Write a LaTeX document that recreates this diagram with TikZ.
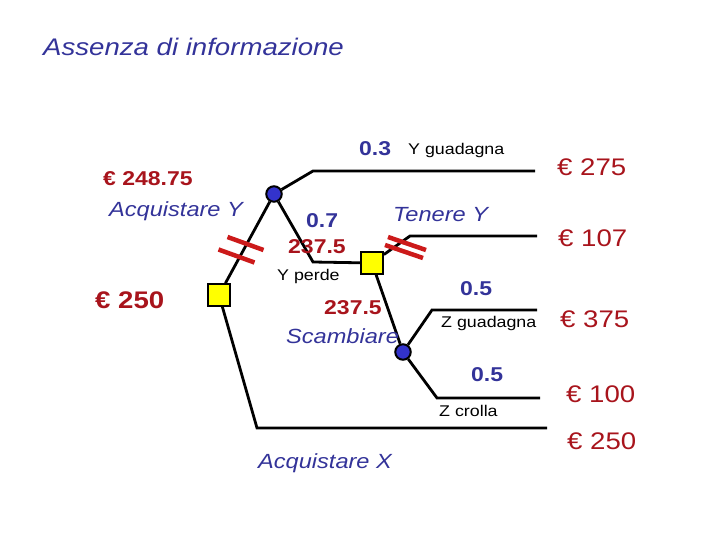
\documentclass[tikz,border=0pt]{standalone}
\usepackage{fontspec}
\setmainfont[FakeStretch=1.15]{Liberation Sans}
\usetikzlibrary{positioning}
\definecolor{treeBlue}{HTML}{333399}
\definecolor{treeRed}{HTML}{A8141C}
\definecolor{nodeBlue}{HTML}{3333CC}
\definecolor{nodeYel}{HTML}{FFFF00}
\definecolor{cutRed}{HTML}{CC1A1A}
\tikzset{
  dnode/.style   = {rectangle, draw=black, line width=2.2pt, fill=nodeYel,
                    minimum size=21.5pt, inner sep=0pt},
  cnode/.style   = {circle, draw=black, line width=2pt, fill=nodeBlue,
                    minimum size=15.5pt, inner sep=0pt},
  branch/.style  = {draw=black, line width=2.8pt},
  cut/.style     = {draw=cutRed, line width=4.5pt},
  txt/.style     = {anchor=base west, inner sep=0pt},
  ttl/.style     = {txt, font=\fontsize{24}{28}\selectfont\itshape, text=treeBlue},
  actlab/.style  = {txt, font=\fontsize{20.5}{24}\selectfont\itshape, text=treeBlue},
  prob/.style    = {txt, font=\fontsize{20}{24}\selectfont\bfseries, text=treeBlue},
  evlab/.style   = {txt, font=\fontsize{20}{24}\selectfont\bfseries, text=treeRed},
  evbig/.style   = {txt, font=\fontsize{24}{28}\selectfont\bfseries, text=treeRed},
  paylab/.style  = {txt, font=\fontsize{24}{28}\selectfont, text=treeRed},
  outlab/.style  = {txt, font=\fontsize{15.5}{18}\selectfont, text=black},
}

\begin{document}
\begin{tikzpicture}[x=1pt, y=-1pt]
  \useasboundingbox (0,0) rectangle (720,540);

  % decision and chance nodes
  \node[dnode] (dBuy)  at (219,295) {};
  \node[cnode] (cY)    at (274,194) {};
  \node[dnode] (dHold) at (372,263) {};
  \node[cnode] (cZ)    at (403,352) {};

  % corners and leaf ends
  \coordinate (kYup) at (313,171);  \coordinate (eYup) at (535,171);
  \coordinate (kYdn) at (313,262);
  \coordinate (kTen) at (410,236);  \coordinate (eTen) at (537,236);
  \coordinate (kZup) at (432,310);  \coordinate (eZup) at (537,310);
  \coordinate (kZdn) at (437,398);  \coordinate (eZdn) at (540,398);
  \coordinate (kX)   at (257,428);  \coordinate (eX)   at (547,428);

  % branches
  \draw[branch] (dBuy) -- (cY);
  \draw[branch] (cY) -- (kYup) -- (eYup);
  \draw[branch] (cY) -- (kYdn) -- (dHold);
  \draw[branch] (dHold) -- (kTen) -- (eTen);
  \draw[branch] (dHold) -- (cZ);
  \draw[branch] (cZ) -- (kZup) -- (eZup);
  \draw[branch] (cZ) -- (kZdn) -- (eZdn);
  \draw[branch] (dBuy) -- (kX) -- (eX);

  % pruned branches
  \foreach \c in {(245.5,243.5), (236.5,256)}
    \draw[cut] \c ++(-18,-6.5) -- ++(36,13);
  \foreach \c in {(407,243.5), (404,251.5)}
    \draw[cut] \c ++(-19,-6.5) -- ++(38,13);

  % labels
  \node[ttl]    (title) at (43,56)   {Assenza di informazione};
  \node[evlab]  (evY)   at (103,186) {€ 248.75};
  \node[actlab] (aY)    at (109,216) {Acquistare Y};
  \node[evbig]  (evA)   at (95,308)  {€ 250};
  \node[prob]   (pYg)   at (359,156) {0.3};
  \node[outlab] (oYg)   at (408,155) {Y guadagna};
  \node[prob]   (pYp)   at (306,228) {0.7};
  \node[evlab]  (evH)   at (288,253) {237.5};
  \node[actlab] (aT)    at (393,222) {Tenere Y};
  \node[outlab] (oYp)   at (277,280) {Y perde};
  \node[evlab]  (evS)   at (324,314) {237.5};
  \node[actlab] (aS)    at (286,343) {Scambiare};
  \node[prob]   (pZg)   at (460,295) {0.5};
  \node[outlab] (oZg)   at (441,327) {Z guadagna};
  \node[prob]   (pZc)   at (471,381) {0.5};
  \node[outlab] (oZc)   at (439,416) {Z crolla};
  \node[actlab] (aX)    at (258,468) {Acquistare X};

  % payoffs
  \foreach \nm/\x/\y/\v in {p1/557/176/275, p2/558/246/107, p3/560/327/375,
                            p4/566/402/100, p5/567/449/250}
    \node[paylab] (\nm) at (\x,\y) {€ \v};
\end{tikzpicture}
\end{document}
